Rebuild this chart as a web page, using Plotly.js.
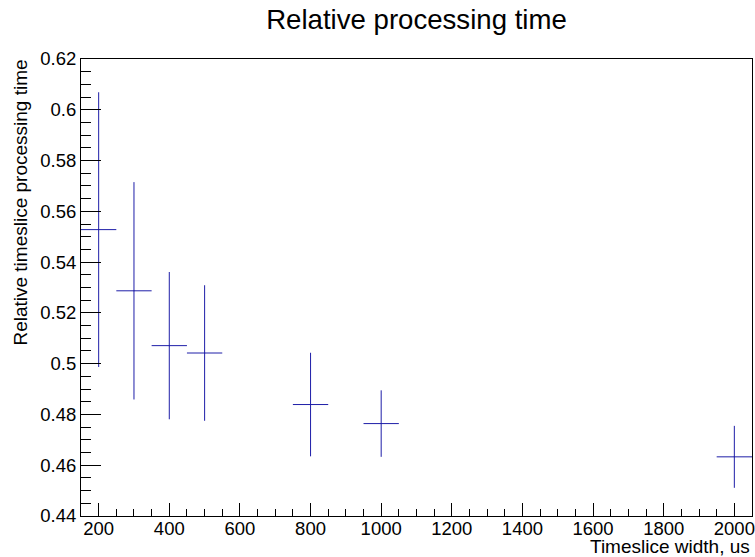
<!DOCTYPE html>
<html>
<head>
<meta charset="utf-8">
<script src="https://cdn.plot.ly/plotly-3.0.1.min.js"></script>
<style>html,body{margin:0;padding:0;background:#fff;}#chart{width:755px;height:557px;}</style>
</head>
<body>
<div id="chart"></div>
<script>
const widths = [200, 300, 400, 500, 800, 1000, 2000];
const relTime = [0.5528, 0.5287, 0.5071, 0.5042, 0.4839, 0.4764, 0.4633];
const relTimeErr = [0.0541, 0.0428, 0.0290, 0.0267, 0.0204, 0.0131, 0.0122];
const widthErr = [50, 50, 50, 50, 50, 50, 50];

const chartTitle = "Relative processing time";
const xTitle = "Timeslice width, us";
const yTitle = "Relative timeslice processing time";

const font = "Liberation Sans, Arial, sans-serif";
const barColor = "#1e1ea8";

const trace = {
  x: widths,
  y: relTime,
  type: "scatter",
  mode: "markers",
  marker: {size: 1, color: barColor},
  error_y: {type: "data", array: relTimeErr, visible: true, color: barColor, thickness: 1, width: 0},
  error_x: {type: "data", array: widthErr, visible: true, color: barColor, thickness: 1, width: 0},
  hoverinfo: "x+y"
};

const layout = {
  width: 755,
  height: 557,
  margin: {l: 81, r: 3, t: 59, b: 41, pad: 0},
  paper_bgcolor: "#fff",
  plot_bgcolor: "#fff",
  showlegend: false,
  font: {family: font, size: 18.5, color: "#000"},
  title: {
    text: chartTitle,
    font: {family: font, size: 27.6, color: "#000"},
    x: 0.5, xref: "paper", xanchor: "center",
    y: 0.966, yref: "container", yanchor: "middle"
  },
  xaxis: {
    range: [150, 2050],
    tick0: 0, dtick: 200,
    ticks: "inside", ticklen: 13, tickwidth: 1, tickcolor: "#000",
    ticklabelstandoff: -4,
    minor: {dtick: 50, ticks: "inside", ticklen: 7, tickwidth: 1, tickcolor: "#000", showgrid: false},
    showgrid: false, zeroline: false,
    showline: true, linecolor: "#000", linewidth: 1, mirror: true,
    tickfont: {family: font, size: 18.5, color: "#000"}
  },
  yaxis: {
    range: [0.44, 0.62],
    tick0: 0.44, dtick: 0.02,
    ticks: "inside", ticklen: 20, tickwidth: 1, tickcolor: "#000",
    minor: {dtick: 0.005, ticks: "inside", ticklen: 10, tickwidth: 1, tickcolor: "#000", showgrid: false},
    showgrid: false, zeroline: false,
    showline: true, linecolor: "#000", linewidth: 1, mirror: true,
    tickfont: {family: font, size: 18.5, color: "#000"}
  },
  annotations: [
    {
      text: xTitle, showarrow: false,
      xref: "paper", yref: "paper", x: 1, y: -0.0676,
      xanchor: "right", yanchor: "middle",
      font: {family: font, size: 19, color: "#000"}
    },
    {
      text: yTitle, showarrow: false, textangle: -90,
      xref: "paper", yref: "paper", x: -0.0903, y: 1.004,
      xanchor: "center", yanchor: "top",
      font: {family: font, size: 19, color: "#000"}
    }
  ]
};

Plotly.newPlot("chart", [trace], layout, {staticPlot: true, displayModeBar: false});
</script>
</body>
</html>
